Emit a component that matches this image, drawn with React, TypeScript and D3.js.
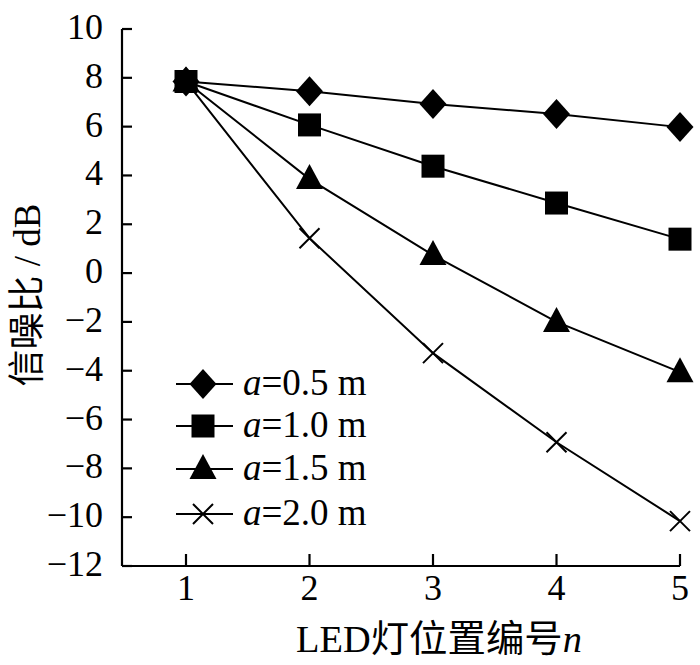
import React from "react";
import * as d3 from "d3";

const xValues = [1, 2, 3, 4, 5];
const a05 = [7.85, 7.45, 6.93, 6.52, 5.98];
const a10 = [7.85, 6.07, 4.38, 2.87, 1.39];
const a15 = [7.85, 3.85, 0.74, -2.0, -4.06];
const a20 = [7.85, 1.43, -3.28, -6.93, -10.16];
const seriesLabels = ["0.5", "1.0", "1.5", "2.0"];
const seriesMarkers = ["diamond", "square", "triangle", "cross"];
const yTicks = [10, 8, 6, 4, 2, 0, -2, -4, -6, -8, -10, -12];
const xTicks = [1, 2, 3, 4, 5];

const W = 700;
const H = 665;

function markerPath(type: string, cx: number, cy: number): string {
  if (type === "diamond") {
    const w = 13.5, h = 15;
    return `M${cx},${cy - h}L${cx + w},${cy}L${cx},${cy + h}L${cx - w},${cy}Z`;
  }
  if (type === "square") {
    const s = 11.5;
    return `M${cx - s},${cy - s}H${cx + s}V${cy + s}H${cx - s}Z`;
  }
  if (type === "triangle") {
    const w = 13.5, h = 25;
    return `M${cx},${cy - h * 0.6}L${cx + w},${cy + h * 0.4}L${cx - w},${cy + h * 0.4}Z`;
  }
  const r = 10;
  return `M${cx - r},${cy - r}L${cx + r},${cy + r}M${cx - r},${cy + r}L${cx + r},${cy - r}`;
}

function Marker({ type, cx, cy }: { type: string; cx: number; cy: number }) {
  const isCross = type === "cross";
  return (
    <path
      d={markerPath(type, cx, cy)}
      fill={isCross ? "none" : "#000"}
      stroke="#000"
      strokeWidth={isCross ? 2 : 0}
    />
  );
}

export default function App() {
  const x = d3.scaleLinear().domain([1, 5]).range([186, 680]);
  const y = d3.scaleLinear().domain([-12, 10]).range([566, 29]);
  const series = [a05, a10, a15, a20];
  const line = d3
    .line<number>()
    .x((_, i) => x(xValues[i]))
    .y((d) => y(d));
  const axisX = 122;
  const axisY = y(-12);
  const serif = "'Liberation Serif', 'Times New Roman', serif";
  const cjk = "'Liberation Serif', 'Noto Sans CJK SC', serif";
  const legendRows = [384, 426, 469, 514];

  return (
    <svg
      width={W}
      height={H}
      style={{ position: "absolute", left: 0, top: 0, background: "#fff" }}
    >
      <rect x={0} y={0} width={W} height={H} fill="#fff" />
      {/* axes */}
      <line x1={axisX} y1={y(10)} x2={axisX} y2={axisY} stroke="#000" strokeWidth={2.2} />
      <line x1={axisX} y1={axisY} x2={x(5)} y2={axisY} stroke="#000" strokeWidth={2.2} />
      {yTicks.map((t) => (
        <g key={"yt" + t}>
          <line x1={axisX} x2={axisX + 10} y1={y(t)} y2={y(t)} stroke="#000" strokeWidth={2.2} />
          <text
            x={103}
            y={y(t) + 10}
            textAnchor="end"
            fontFamily={serif}
            fontSize={36}
          >
            {t < 0 ? "\u2212" + Math.abs(t) : String(t)}
          </text>
        </g>
      ))}
      {xTicks.map((t) => (
        <g key={"xt" + t}>
          <line x1={x(t)} x2={x(t)} y1={axisY} y2={axisY - 12} stroke="#000" strokeWidth={2.2} />
          <text x={x(t)} y={600} textAnchor="middle" fontFamily={serif} fontSize={36}>
            {t}
          </text>
        </g>
      ))}
      {/* series */}
      {series.map((s, si) => (
        <g key={"s" + si}>
          <path d={line(s) || ""} fill="none" stroke="#000" strokeWidth={2} />
          {s.map((v, i) => (
            <Marker key={i} type={seriesMarkers[si]} cx={x(xValues[i])} cy={y(v)} />
          ))}
        </g>
      ))}
      {/* legend */}
      {seriesLabels.map((lab, i) => (
        <g key={"lg" + i}>
          <line x1={176} x2={233} y1={legendRows[i]} y2={legendRows[i]} stroke="#000" strokeWidth={2} />
          <Marker type={seriesMarkers[i]} cx={203} cy={legendRows[i]} />
          <text x={243} y={legendRows[i] + 11} fontFamily={serif} fontSize={37}>
            <tspan fontStyle="italic">a</tspan>
            <tspan>{"=" + lab + " m"}</tspan>
          </text>
        </g>
      ))}
      {/* axis titles */}
      <text
        x={296}
        y={652}
        fontFamily={cjk}
        fontSize={37}
        textLength={286}
        lengthAdjust="spacingAndGlyphs"
      >
        LED灯位置编号<tspan fontStyle="italic">n</tspan>
      </text>
      <text
        transform={`translate(40,295) rotate(-90)`}
        textAnchor="middle"
        fontFamily={cjk}
        fontSize={37}
      >
        信噪比 / dB
      </text>
    </svg>
  );
}
